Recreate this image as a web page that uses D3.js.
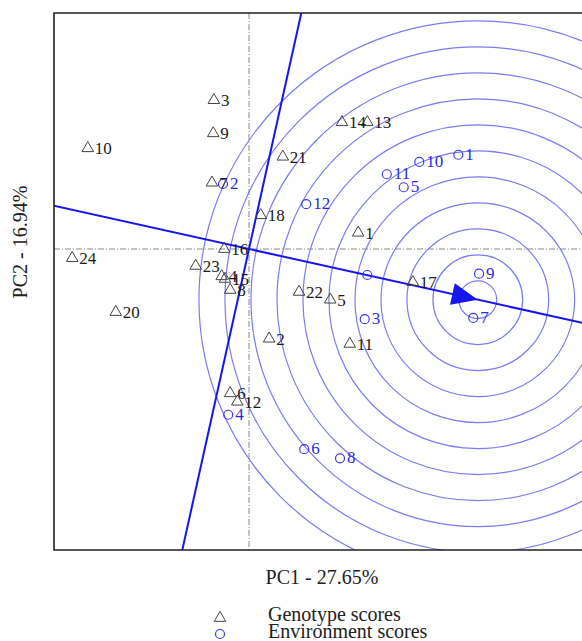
<!DOCTYPE html>
<html><head><meta charset="utf-8">
<script src="https://cdn.jsdelivr.net/npm/d3@7"></script>
<style>body{margin:0;background:#fff}svg{display:block}text{font-family:"Liberation Serif","Times New Roman",serif}</style>
</head><body><svg id="c" width="582" height="641"></svg>
<script>
// Genotype scores (PC1, PC2)
const genoLabels = ["1","2","3","4","5","6","7","8","9","10","11","12","13","14","15","16","17","18","20","21","22","23","24"];
const genoPC1 = [1.68,0.31,-0.54,-0.42,1.25,-0.29,-0.57,-0.29,-0.55,-2.48,1.55,-0.18,1.82,1.43,-0.37,-0.38,2.52,0.18,-2.05,0.52,0.77,-0.82,-2.72];
const genoPC2 = [0.25,-1.38,2.29,-0.42,-0.78,-2.22,1.02,-0.63,1.78,1.55,-1.46,-2.35,1.95,1.95,-0.46,0.00,-0.51,0.52,-0.97,1.42,-0.66,-0.26,-0.14];
// Environment scores (PC1, PC2)
const envLabels = ["1","2","3","4","5","6","7","8","9","10","11","12",""];
const envPC1 = [3.22,-0.40,1.78,-0.32,2.38,0.85,3.45,1.40,3.54,2.62,2.12,0.88,1.82];
const envPC2 = [1.45,1.00,-1.08,-2.55,0.95,-3.08,-1.06,-3.22,-0.38,1.34,1.15,0.69,-0.40];
// Ideal point and concentric circle radii
const idealPoint = [3.52,-0.78];
const circleRadii = [0.29,0.69,1.09,1.49,1.89,2.29,2.69,3.09,3.49,3.89,4.29];
const axisTitles = ["PC1 - 27.65%","PC2 - 16.94%"];
const legendLabels = ["Genotype scores","Environment scores"];

const L=54,T=13,R=582,B=550;
const x=d3.scaleLinear().domain([-3,5.123]).range([L,R]);
const y=d3.scaleLinear().domain([-4.631,3.631]).range([B,T]);
const svg=d3.select("#c");
svg.append("defs").append("clipPath").attr("id","clip").append("rect").attr("x",L).attr("y",T).attr("width",R-L).attr("height",B-T);
const g=svg.append("g").attr("clip-path","url(#clip)");

// reference dashed lines
g.append("line").attr("x1",L).attr("x2",R).attr("y1",y(0)).attr("y2",y(0)).attr("stroke","#888").attr("stroke-width",1).attr("stroke-dasharray","6,2,1,2");
g.append("line").attr("y1",T).attr("y2",B).attr("x1",x(0)).attr("x2",x(0)).attr("stroke","#888").attr("stroke-width",1).attr("stroke-dasharray","6,2,1,2");

// circles
const pxPerUnit=x(1)-x(0);
g.selectAll("circle.ring").data(circleRadii).join("circle").attr("class","ring")
 .attr("cx",x(idealPoint[0])).attr("cy",y(idealPoint[1])).attr("r",d=>d*pxPerUnit)
 .attr("fill","none").attr("stroke","#7b7bf5").attr("stroke-width",1.2);

// AEA lines
const len=Math.hypot(idealPoint[0],idealPoint[1]);
const dx=idealPoint[0]/len, dy=idealPoint[1]/len;
const line=d3.line().x(d=>x(d[0])).y(d=>y(d[1]));
g.append("path").attr("d",line([[-20*dx,-20*dy],[20*dx,20*dy]])).attr("stroke","#1515f0").attr("stroke-width",2).attr("fill","none");
g.append("path").attr("d",line([[20*dy,-20*dx],[-20*dy,20*dx]])).attr("stroke","#1515f0").attr("stroke-width",2).attr("fill","none");
// arrowhead
const tx=x(idealPoint[0]), ty=y(idealPoint[1]);
const ang=Math.atan2(ty-y(0),tx-x(0));
const al=26, aw=11;
const bx=tx-al*Math.cos(ang), by=ty-al*Math.sin(ang);
g.append("path").attr("d",`M${tx},${ty}L${bx-aw*Math.sin(ang)},${by+aw*Math.cos(ang)}L${bx+aw*Math.sin(ang)},${by-aw*Math.cos(ang)}Z`).attr("fill","#1515f0");

// genotypes
const tri=d3.symbol().type(d3.symbolTriangle).size(58);
const geno=genoLabels.map((l,i)=>({l,u:genoPC1[i],v:genoPC2[i]}));
const gg=g.selectAll("g.geno").data(geno).join("g").attr("transform",d=>`translate(${x(d.u)},${y(d.v)})`);
gg.append("path").attr("d",tri).attr("fill","none").attr("stroke","#444").attr("stroke-width",1);
gg.append("text").attr("x",7).attr("y",6).attr("font-size",17).attr("fill","#1a1a1a").text(d=>d.l);

// environments
const env=envLabels.map((l,i)=>({l,u:envPC1[i],v:envPC2[i]}));
const eg=g.selectAll("g.env").data(env).join("g").attr("transform",d=>`translate(${x(d.u)},${y(d.v)})`);
eg.append("circle").attr("r",4.5).attr("fill","none").attr("stroke","#3a3ae6").attr("stroke-width",1.2);
eg.append("text").attr("x",7).attr("y",5).attr("font-size",17).attr("fill","#2a2ae0").text(d=>d.l);

// frame
svg.append("path").attr("d",`M${R+2},${T}H${L}V${B}H${R+2}`).attr("fill","none").attr("stroke","#222").attr("stroke-width",1.6);

// axis titles
svg.append("text").attr("x",(L+R)/2+4).attr("y",584).attr("text-anchor","middle").attr("font-size",20).attr("fill","#222").text(axisTitles[0]);
svg.append("text").attr("transform","translate(27,242) rotate(-90)").attr("text-anchor","middle").attr("font-size",20).attr("fill","#222").text(axisTitles[1]);

// legend
svg.append("path").attr("transform","translate(220,618)").attr("d",tri).attr("fill","none").attr("stroke","#444");
svg.append("circle").attr("cx",220).attr("cy",634).attr("r",4.5).attr("fill","none").attr("stroke","#3a3ae6").attr("stroke-width",1.2);
svg.append("text").attr("x",268).attr("y",621).attr("font-size",20).attr("fill","#222").text(legendLabels[0]);
svg.append("text").attr("x",268).attr("y",638).attr("font-size",20).attr("fill","#222").text(legendLabels[1]);
</script></body></html>
